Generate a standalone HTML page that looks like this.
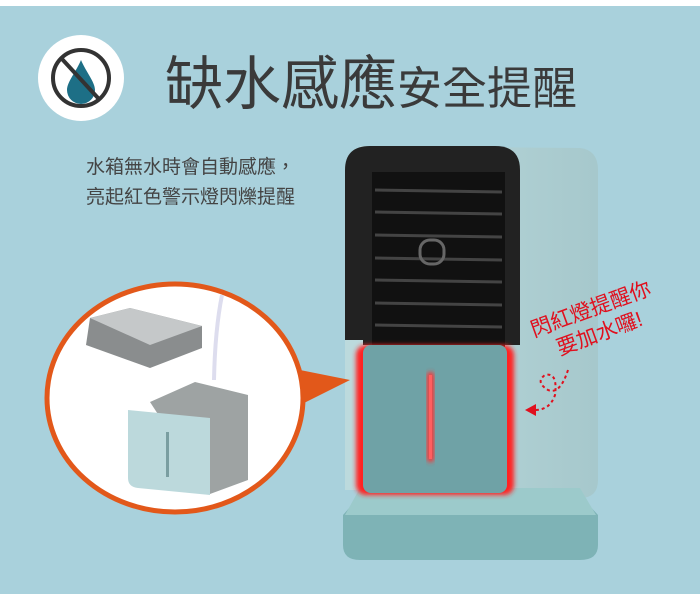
<!DOCTYPE html>
<html><head><meta charset="utf-8"><style>
body{margin:0;width:700px;height:600px;overflow:hidden;background:#fff}
</style></head><body>
<svg width="700" height="600" xmlns="http://www.w3.org/2000/svg" font-family="Liberation Sans, Noto Sans CJK TC, sans-serif">
<defs>
<filter id="glow"><feGaussianBlur stdDeviation="2.5"/></filter>
<linearGradient id="sh" x1="0" x2="1"><stop offset="0" stop-color="#bcdadd"/><stop offset="1" stop-color="#a6c8cc"/></linearGradient>
</defs>
<rect x="0" y="6" width="700" height="588" fill="#a9d1dc"/>
<circle cx="81" cy="78" r="43" fill="#fff"/>
<circle cx="81" cy="78" r="28" fill="none" stroke="#333" stroke-width="4"/>
<path d="M81 60 C76 72 67 82 67 90 A14 14 0 0 0 95 90 C95 82 86 72 81 60Z" fill="#1d6f86"/>
<line x1="62" y1="59" x2="98" y2="98" stroke="#333" stroke-width="4"/>
<text x="165" y="104" font-size="58" fill="#3a3a3a">缺水感應<tspan font-size="45">安全提醒</tspan></text>
<text x="86" y="173" font-size="19" fill="#444">水箱無水時會自動感應，</text>
<text x="86" y="203" font-size="19" fill="#444">亮起紅色警示燈閃爍提醒</text>
<path d="M360 146 L580 148 Q598 150 598 170 L598 480 Q598 498 580 498 L360 490 Z" fill="url(#sh)"/>
<path d="M370 146 L495 146 Q520 146 520 170 L520 345 L345 345 L345 170 Q345 146 370 146Z" fill="#222"/>
<rect x="345" y="340" width="18" height="150" fill="#bcdadd"/>
<rect x="372" y="172" width="133" height="175" fill="#111"/>
<g stroke="#444" stroke-width="3">
<line x1="375" y1="190" x2="502" y2="192"/><line x1="375" y1="212" x2="502" y2="214"/>
<line x1="375" y1="235" x2="502" y2="237"/><line x1="375" y1="258" x2="502" y2="260"/>
<line x1="375" y1="280" x2="502" y2="282"/><line x1="375" y1="303" x2="502" y2="305"/>
<line x1="375" y1="325" x2="502" y2="327"/></g>
<rect x="420" y="240" width="24" height="24" rx="10" fill="none" stroke="#666" stroke-width="3"/>
<path d="M365 490 L575 490 L598 515 L598 545 Q598 560 580 560 L360 560 Q343 560 343 545 L343 515 Z" fill="#7eb3b6"/>
<path d="M360 488 L580 488 L596 515 L345 515 Z" fill="#9ccacb"/>
<rect x="356" y="345" width="158" height="150" rx="10" fill="#ff2020" filter="url(#glow)"/>
<rect x="363" y="345" width="144" height="148" rx="8" fill="#6fa2a6"/>
<rect x="427" y="372" width="7" height="90" rx="3" fill="#ff3030" filter="url(#glow)"/>
<rect x="429" y="375" width="3" height="84" fill="#ff6060"/>
<path d="M300 370 L350 380 L300 405 Z" fill="#e2581a"/>
<ellipse cx="175" cy="398" rx="128" ry="114" fill="#fff" stroke="#e2581a" stroke-width="5"/>
<path d="M90 318 L130 308 L202 326 L202 348 L150 368 L86 345 Z" fill="#8a8d8e"/>
<path d="M90 318 L130 308 L202 326 L150 345 Z" fill="#c5c8c9"/>
<path d="M222 295 Q215 330 214 380" stroke="#dde" stroke-width="4" fill="none"/>
<path d="M150 402 L195 382 L248 395 L248 480 L210 494 Z" fill="#9ea3a3"/>
<path d="M128 410 L210 418 L210 495 L138 488 Q128 487 128 478 Z" fill="#bcd9dc"/>
<rect x="166" y="432" width="3" height="45" fill="#7a9ea1"/>
<g fill="#e0101e" font-size="21" transform="rotate(-20 595 315)">
<text x="530" y="315">閃紅燈提醒你</text>
<text x="548" y="341">要加水囉!</text></g>
<path d="M568 370 Q560 395 548 390 Q535 382 545 375 Q558 372 555 395 Q550 410 535 410" fill="none" stroke="#e0101e" stroke-width="2" stroke-dasharray="3 3"/>
<path d="M525 410 L536 404 L536 416 Z" fill="#e0101e"/>
</svg>
</body></html>
